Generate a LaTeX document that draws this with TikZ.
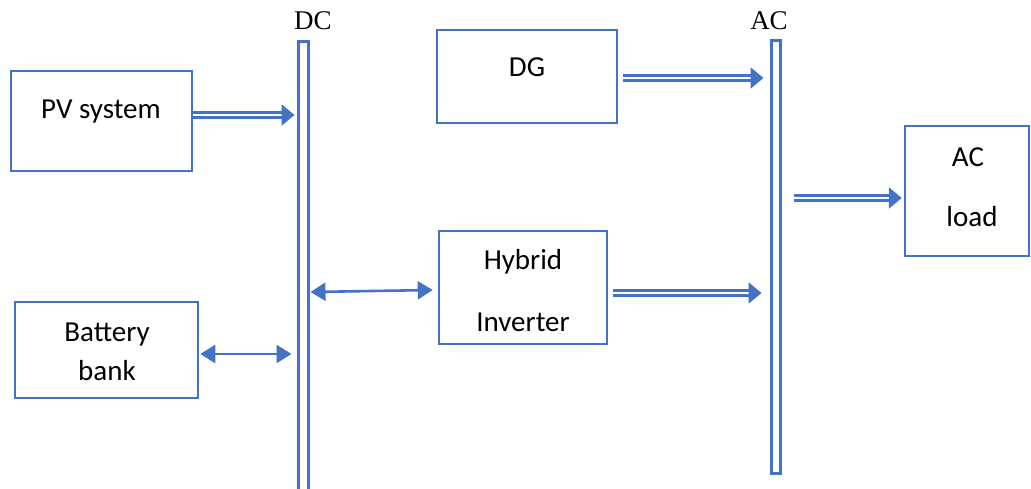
\documentclass[tikz,border=0pt]{standalone}
\usepackage{fontspec}
\setmainfont{Carlito}
\newfontfamily\timesf{Liberation Serif}
\usetikzlibrary{arrows.meta}
\definecolor{wblue}{RGB}{68,114,196}
\begin{document}
\begin{tikzpicture}[x=1pt,y=-1pt,
  box/.style={draw=wblue,line width=2.5pt,rectangle,inner sep=0pt},
  bus/.style={draw=wblue,line width=3pt,rectangle,inner sep=0pt},
  lbl/.style={anchor=base,inner sep=0pt,font=\fontsize{29}{34}\selectfont},
  buslbl/.style={anchor=base,inner sep=0pt,font=\timesf\fontsize{27}{32}\selectfont},
  dbl/.style={draw=wblue,double=white,double distance=2.8pt,line width=2.4pt,
    -{Triangle[length=13pt,width=21pt]}},
  biarrow/.style={draw=wblue,line width=2.6pt,{Triangle[length=15pt,width=18pt]}-{Triangle[length=15pt,width=18pt]}}]
\useasboundingbox (0,0) rectangle (1031,488);
% boxes
\node[box,minimum width=181pt,minimum height=100pt] (pv) at (101.5,121) {};
\node[box,minimum width=180pt,minimum height=93pt] (dg) at (527,76.5) {};
\node[box,minimum width=124pt,minimum height=130pt] (load) at (967,191) {};
\node[box,minimum width=168pt,minimum height=113pt] (hyb) at (523,287.5) {};
\node[box,minimum width=183pt,minimum height=96pt] (bat) at (106.5,350) {};
% buses
\node[bus,minimum width=10pt,minimum height=470pt] (dc) at (303,276) {};
\node[bus,minimum width=9pt,minimum height=433pt] (ac) at (775.5,256.5) {};
% texts
\node[lbl] (pvt) at (101,118) {PV system};
\node[lbl] (dgt) at (527,76) {DG};
\node[lbl] (hybt1) at (523,269) {Hybrid};
\node[lbl] (hybt2) at (523,331) {Inverter};
\node[lbl] (loadt1) at (968,166) {AC};
\node[lbl] (loadt2) at (972,226) {load};
\node[lbl] (batt1) at (107,341) {Battery};
\node[lbl] (batt2) at (107,380) {bank};
\node[buslbl] (dct) at (313,29) {DC};
\node[buslbl] (act) at (769,29) {AC};
% connectors
\draw[dbl] (pv.east |- 0,115) -- ([xshift=-2pt]dc.west |- 0,115);
\draw[biarrow] ([xshift=1pt]bat.east |- 0,354) -- ([xshift=-5pt]dc.west |- 0,354);
\draw[biarrow] ([xshift=1pt]dc.east |- 0,292) -- ([xshift=-5pt]hyb.west |- 0,290);
\draw[dbl] ([xshift=5pt]dg.east |- 0,78) -- ([xshift=-6pt]ac.west |- 0,78);
\draw[dbl] ([xshift=5pt]hyb.east |- 0,293) -- ([xshift=-8pt]ac.west |- 0,293);
\draw[dbl] ([xshift=12pt]ac.east |- 0,198) -- ([xshift=-2pt]load.west |- 0,198);
\end{tikzpicture}
\end{document}
